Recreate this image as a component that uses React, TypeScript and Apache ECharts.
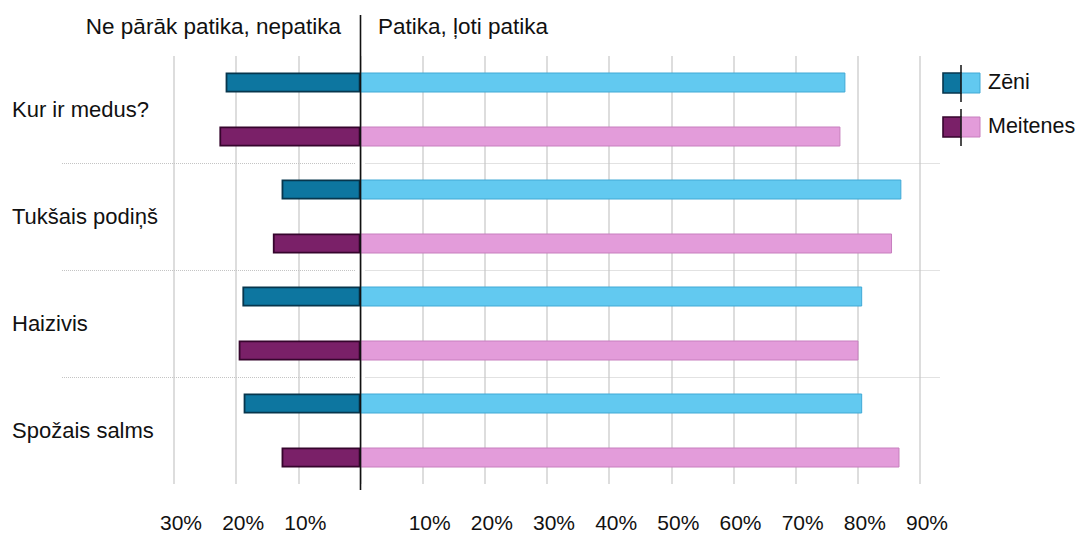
import React, { useEffect, useRef } from "react";
import * as echarts from "echarts";

const categories = ["Kur ir medus?", "Tukšais podiņš", "Haizivis", "Spožais salms"];
const seriesNames = ["Zēni", "Meitenes"];
const boysNegative = [-21.7, -12.7, -19.0, -18.8];
const boysPositive = [78.0, 87.0, 80.7, 80.7];
const girlsNegative = [-22.7, -14.1, -19.6, -12.7];
const girlsPositive = [77.2, 85.5, 80.1, 86.7];
const axisMin = -30;
const axisMax = 90;
const axisStep = 10;
const headerLeft = "Ne pārāk patika, nepatika";
const headerRight = "Patika, ļoti patika";

const FONT = "'Liberation Sans', Arial, sans-serif";
const TEXT = "#111111";
const BOYS_DARK = "#0d76a0";
const BOYS_DARK_EDGE = "#07364d";
const BOYS_LIGHT = "#62c9f0";
const BOYS_LIGHT_EDGE = "#41a9d5";
const GIRLS_DARK = "#7a2068";
const GIRLS_DARK_EDGE = "#36052d";
const GIRLS_LIGHT = "#e39cda";
const GIRLS_LIGHT_EDGE = "#c77fbe";

export default function App() {
  const ref = useRef<HTMLDivElement>(null);

  useEffect(() => {
    document.body.style.margin = "0";
    if (!ref.current) return;
    const chart = echarts.init(ref.current, undefined, { renderer: "svg" });

    const bar = (name: string, stack: string, data: number[], color: string, edge: string, bw: number) => ({
      name,
      type: "bar",
      stack,
      data,
      barWidth: 20,
      barGap: "170%",
      itemStyle: { color, borderColor: edge, borderWidth: bw },
      emphasis: { disabled: true },
    });

    chart.setOption({
      animation: false,
      textStyle: { fontFamily: FONT },
      title: [
        {
          text: headerLeft,
          right: 1083 - 341,
          top: 15,
          padding: 0,
          textStyle: { fontSize: 22.5, fontWeight: "normal", color: TEXT, fontFamily: FONT },
        },
        {
          text: headerRight,
          left: 378,
          top: 15,
          padding: 0,
          textStyle: { fontSize: 22.5, fontWeight: "normal", color: TEXT, fontFamily: FONT },
        },
      ],
      grid: { left: 174, right: 163, top: 56, bottom: 51, containLabel: false },
      xAxis: {
        type: "value",
        min: axisMin,
        max: axisMax,
        interval: axisStep,
        axisLine: { show: false },
        axisTick: { show: false },
        splitLine: { show: true, lineStyle: { color: "#d2d2d2", width: 1.5 } },
        axisLabel: {
          margin: 28,
          fontSize: 21,
          color: TEXT,
          fontFamily: FONT,
          padding: [0, 0, 0, 14],
          formatter: (v: number) => (v === 0 ? "" : Math.abs(v) + "%"),
        },
      },
      yAxis: {
        type: "category",
        data: categories,
        inverse: true,
        axisLine: { show: false },
        axisTick: { show: false },
        splitLine: { show: false },
        axisLabel: {
          align: "left",
          margin: 162,
          fontSize: 22,
          color: TEXT,
          fontFamily: FONT,
        },
      },
      series: [
        bar(seriesNames[0], "boys", boysNegative, BOYS_DARK, BOYS_DARK_EDGE, 1.8),
        bar(seriesNames[0], "boys", boysPositive, BOYS_LIGHT, BOYS_LIGHT_EDGE, 1),
        bar(seriesNames[1], "girls", girlsNegative, GIRLS_DARK, GIRLS_DARK_EDGE, 1.8),
        bar(seriesNames[1], "girls", girlsPositive, GIRLS_LIGHT, GIRLS_LIGHT_EDGE, 1),
      ],
    });

    const x0 = chart.convertToPixel({ xAxisIndex: 0 }, 0) as number;
    const xEnd = chart.convertToPixel({ xAxisIndex: 0 }, axisMax) as number;
    const separators: any[] = [];
    for (let i = 0; i < categories.length - 1; i++) {
      const a = chart.convertToPixel({ yAxisIndex: 0 }, i) as number;
      const b = chart.convertToPixel({ yAxisIndex: 0 }, i + 1) as number;
      const y = Math.round((a + b) / 2) + 0.5;
      const style = { stroke: "#c4c4c4", lineWidth: 1, lineDash: [1, 1] };
      separators.push({ type: "line", shape: { x1: 62, y1: y, x2: x0 - 5, y2: y }, style, silent: true });
      separators.push({ type: "line", shape: { x1: x0 + 5, y1: y, x2: xEnd + 20, y2: y }, style, silent: true });
    }

    const legendItem = (top: number, dark: string, darkEdge: string, light: string, lightEdge: string, label: string) => ({
      type: "group",
      children: [
        { type: "rect", shape: { x: 943, y: top, width: 18, height: 20 }, style: { fill: dark, stroke: darkEdge, lineWidth: 1.6 } },
        { type: "rect", shape: { x: 961, y: top, width: 19, height: 20 }, style: { fill: light, stroke: lightEdge, lineWidth: 1 } },
        { type: "line", shape: { x1: 961, y1: top - 8, x2: 961, y2: top + 29 }, style: { stroke: "#111", lineWidth: 1.5 } },
        {
          type: "text",
          x: 988,
          y: top + 9,
          style: { text: label, font: `21.5px ${FONT}`, fill: TEXT, textVerticalAlign: "middle", verticalAlign: "middle" },
        },
      ],
    });

    chart.setOption({
      graphic: [
        ...separators,
        { type: "line", shape: { x1: x0, y1: 15, x2: x0, y2: 490 }, style: { stroke: "#111", lineWidth: 1.6 }, silent: true, z: 100 },
        legendItem(73, BOYS_DARK, BOYS_DARK_EDGE, BOYS_LIGHT, BOYS_LIGHT_EDGE, seriesNames[0]),
        legendItem(117, GIRLS_DARK, GIRLS_DARK_EDGE, GIRLS_LIGHT, GIRLS_LIGHT_EDGE, seriesNames[1]),
      ],
    });

    return () => chart.dispose();
  }, []);

  return <div ref={ref} style={{ position: "absolute", left: 0, top: 0, width: 1083, height: 535 }} />;
}
